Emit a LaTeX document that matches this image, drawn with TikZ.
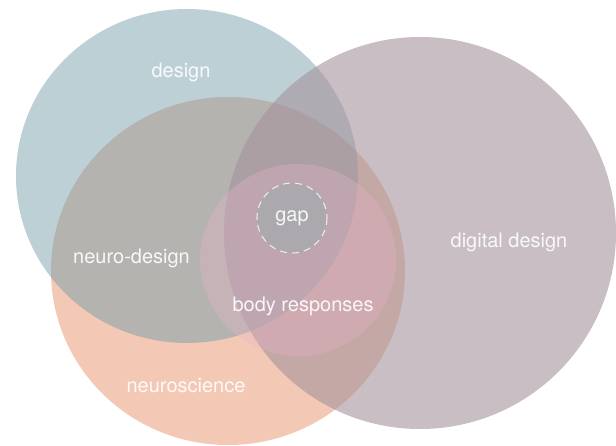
\documentclass[tikz,border=0pt]{standalone}
\usepackage{fontspec}
\setmainfont{TeX Gyre Heros}
\definecolor{cDesign}{RGB}{115,157,170}
\definecolor{cNeuro}{RGB}{243,201,181}
\definecolor{cDigital}{RGB}{165,147,155}
\definecolor{cBody}{RGB}{235,180,205}
\definecolor{cGap}{RGB}{171,169,173}
\tikzset{
  lbl/.style={text=white, text opacity=0.9, font=\fontsize{20}{24}\selectfont, inner sep=0pt},
}
\begin{document}
\begin{tikzpicture}[x=1pt,y=-1pt]
\useasboundingbox (0,0) rectangle (616,446);
\fill[white] (0,0) rectangle (616,446);
\begin{scope}
\clip (0,0) rectangle (616,446);
% neuroscience
\fill[cNeuro] (228,271) ellipse [x radius=177, y radius=174];
% design
\fill[cDesign, fill opacity=0.48] (187,176) ellipse [x radius=171, y radius=167];
% digital design
\fill[cDigital, fill opacity=0.6] (420,233) ellipse [x radius=196, y radius=196];
% body responses
\fill[cBody, fill opacity=0.3] (298,260) ellipse [x radius=98, y radius=96];
% gap
\fill[cGap] (292,218) circle [radius=35];
\draw[white, draw opacity=0.75, line width=1.1pt, dash pattern=on 7pt off 5pt] (292,218) circle [radius=35];
\end{scope}
\node[lbl] (design) at (181,72) {design};
\node[lbl] (neurodesign) at (131.5,258) {neuro-design};
\node[lbl] (gap) at (292,218) {gap};
\node[lbl] (digital) at (509,242) {digital design};
\node[lbl] (body) at (303,306) {body responses};
\node[lbl] (neuroscience) at (186,386) {neuroscience};
\end{tikzpicture}
\end{document}
